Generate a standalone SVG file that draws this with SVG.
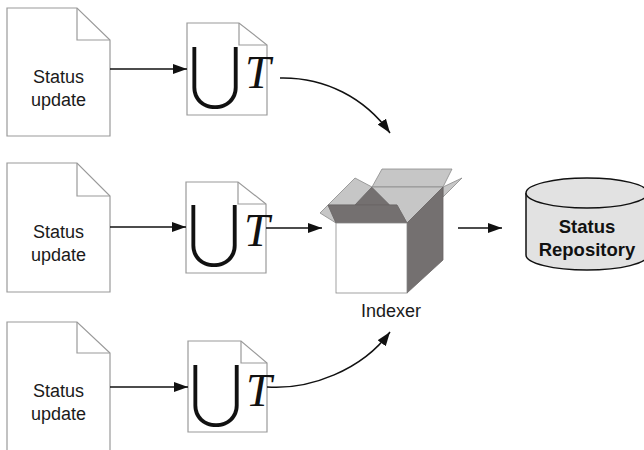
<svg xmlns="http://www.w3.org/2000/svg" width="644" height="450" viewBox="0 0 644 450">
  <style>
    .page { fill: #ffffff; stroke: #9a9a9a; stroke-width: 1.2; }
    .fold { fill: none; stroke: #9a9a9a; stroke-width: 1.2; }
    .lbl { font-family: "Liberation Sans", Arial, sans-serif; font-size: 18px; fill: #1a1a1a; text-anchor: middle; }
    .union { font-family: Inter, "DejaVu Sans", sans-serif; font-weight: 220; font-size: 84px; fill: #111; text-anchor: middle; }
    .tsym { font-family: "Liberation Serif", "Times New Roman", serif; font-style: italic; font-size: 46px; fill: #111; }
    .conn { fill: none; stroke: #111; stroke-width: 1.5; }
    .lt { fill: #c6c6c6; stroke: #8a8a8a; stroke-width: 0.8; stroke-linejoin: round; }
    .dk { fill: #747070; stroke: #6a6666; stroke-width: 0.8; stroke-linejoin: round; }
    .repo { font-family: "Liberation Sans", Arial, sans-serif; font-size: 18.5px; font-weight: bold; fill: #111; text-anchor: middle; }
  </style>
  <defs>
    <marker id="arrow" viewBox="0 0 14 10" refX="14" refY="5" markerWidth="14" markerHeight="10" markerUnits="userSpaceOnUse" orient="auto">
      <path d="M0,0 L14,5 L0,10 Z" fill="#111"/>
    </marker>
  </defs>

  <!-- status update documents -->
  <g id="doc1">
    <path class="page" d="M7,8 H77 L110,40 V136 H7 Z"/>
    <path class="fold" d="M77,8 V40 H110"/>
    <text class="lbl" x="58.5" y="83">Status</text>
    <text class="lbl" x="58.5" y="106">update</text>
  </g>
  <g id="doc2">
    <path class="page" d="M7,163 H77 L110,196 V292 H7 Z"/>
    <path class="fold" d="M77,163 V196 H110"/>
    <text class="lbl" x="58.5" y="238">Status</text>
    <text class="lbl" x="58.5" y="261">update</text>
  </g>
  <g id="doc3">
    <path class="page" d="M7,322 H77 L110,353 V452 H7 Z"/>
    <path class="fold" d="M77,322 V353 H110"/>
    <text class="lbl" x="58.5" y="397">Status</text>
    <text class="lbl" x="58.5" y="420">update</text>
  </g>

  <!-- union transform sheets -->
  <g id="union1">
    <path class="page" d="M187,23 H239 L267,45 V115 H187 Z"/>
    <path class="fold" d="M239,23 V45 H267"/>
    <text class="union" x="215" y="108">U</text>
    <text class="tsym" x="245" y="88">T</text>
  </g>
  <g id="union2">
    <path class="page" d="M186,182 H238 L266,204 V273 H186 Z"/>
    <path class="fold" d="M238,182 V204 H266"/>
    <text class="union" x="214" y="266">U</text>
    <text class="tsym" x="244" y="246">T</text>
  </g>
  <g id="union3">
    <path class="page" d="M188,341 H241 L267,363 V432 H188 Z"/>
    <path class="fold" d="M241,341 V363 H267"/>
    <text class="union" x="216" y="426">U</text>
    <text class="tsym" x="246" y="406">T</text>
  </g>

  <!-- indexer box -->
  <g id="indexer">
    <polygon class="lt" points="372,187 382,169 452,169 443,187"/>
    <polygon class="lt" points="328,205 355,178 372,187 355,205"/>
    <polygon class="lt" points="320,213 328,205 336,223"/>
    <polygon class="dk" points="355,205 372,187 390,205"/>
    <polygon class="lt" points="372,187 443,187 407,223 397,205 390,205"/>
    <polygon class="dk" points="328,205 397,205 407,223 336,223"/>
    <polygon class="lt" points="443,187 462,178 443,197"/>
    <polygon class="dk" points="407,223 443,187 443,260 407,293"/>
    <rect x="336" y="223" width="71" height="70" fill="#ffffff" stroke="#8a8a8a" stroke-width="0.8"/>
    <text class="lbl" x="391" y="317">Indexer</text>
  </g>

  <!-- status repository -->
  <g id="repository">
    <path d="M526,193 V255 A61,15 0 0 0 648,255 V193" fill="#e2e2e2" stroke="#111" stroke-width="1.5"/>
    <ellipse cx="587" cy="193" rx="61" ry="15" fill="#e2e2e2" stroke="#111" stroke-width="1.5"/>
    <text class="repo" x="587" y="233">Status</text>
    <text class="repo" x="587" y="256">Repository</text>
  </g>

  <!-- connectors -->
  <g id="connectors">
    <line class="conn" x1="110" y1="69" x2="187" y2="69" marker-end="url(#arrow)"/>
    <line class="conn" x1="110" y1="227" x2="186" y2="227" marker-end="url(#arrow)"/>
    <line class="conn" x1="110" y1="387" x2="188" y2="387" marker-end="url(#arrow)"/>
    <line class="conn" x1="266" y1="228" x2="322" y2="228" marker-end="url(#arrow)"/>
    <path class="conn" d="M280,78 C325,77 365,98 390,133" marker-end="url(#arrow)"/>
    <path class="conn" d="M267,387 C310,390 362,370 390,332" marker-end="url(#arrow)"/>
    <line class="conn" x1="458" y1="228" x2="502" y2="228" marker-end="url(#arrow)"/>
  </g>
</svg>
